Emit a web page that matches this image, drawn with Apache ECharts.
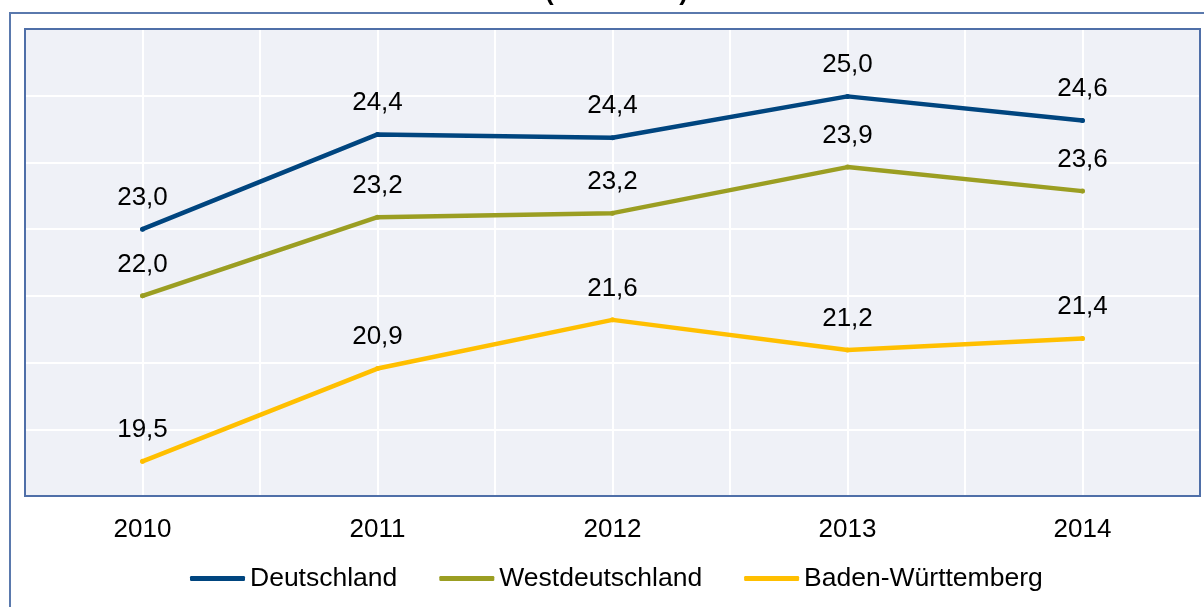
<!DOCTYPE html>
<html>
<head>
<meta charset="utf-8">
<script src="https://cdn.jsdelivr.net/npm/echarts@6/dist/echarts.min.js"></script>
<style>
  html, body { margin: 0; padding: 0; background: #fff; }
  #chart { width: 1204px; height: 607px; }
</style>
</head>
<body>
<div id="chart"></div>
<script>
// Jahre
const years = ["2010", "2011", "2012", "2013", "2014"];
// Werte je Region
const deutschland = [23.0, 24.42, 24.37, 24.99, 24.63];
const westdeutschland = [22.0, 23.18, 23.24, 23.93, 23.57];
const badenWuerttemberg = [19.52, 20.91, 21.64, 21.19, 21.36];
const seriesNames = ["Deutschland", "Westdeutschland", "Baden-Württemberg"];
const colors = ["#00457f", "#9b9e22", "#ffbf00"];

const font = "Arial, 'Liberation Sans', sans-serif";

function makeLine(name, data, color) {
  return {
    name: name,
    type: "line",
    data: data,
    symbol: "circle",
    symbolSize: 5,
    lineStyle: { width: 4.5, color: color, cap: "round" },
    itemStyle: { color: color },
    label: {
      show: true,
      position: "top",
      distance: 16,
      color: "#000",
      fontSize: 26,
      fontFamily: font,
      formatter: p => p.value.toFixed(1).replace(".", ",")
    }
  };
}

const chart = echarts.init(document.getElementById("chart"));
chart.setOption({
  animation: false,
  color: colors,
  grid: {
    left: 25,
    right: 4,
    top: 29,
    bottom: 111,
    show: true,
    backgroundColor: "#eff1f7",
    borderWidth: 0
  },
  legend: {
    data: seriesNames,
    left: 185,
    top: 560,
    icon: "roundRect",
    itemWidth: 55,
    itemHeight: 5,
    itemGap: 42,
    textStyle: { color: "#000", fontSize: 26.5, fontFamily: font }
  },
  xAxis: [
    {
      type: "category",
      data: years,
      boundaryGap: true,
      axisLine: { show: false },
      axisTick: { show: false },
      splitLine: { show: false },
      axisLabel: { color: "#000", fontSize: 26, fontFamily: font, margin: 21 }
    },
    {
      // nur für die Gitterlinien (halbe Schritte)
      type: "category",
      data: ["", "", "", "", "", "", "", "", "", ""],
      boundaryGap: true,
      position: "bottom",
      axisLine: { show: false },
      axisTick: { show: false },
      axisLabel: { show: false },
      splitLine: { show: true, lineStyle: { color: "#ffffff", width: 2 } }
    }
  ],
  yAxis: {
    type: "value",
    min: 19,
    max: 26,
    interval: 1,
    axisLine: { show: false },
    axisTick: { show: false },
    axisLabel: { show: false },
    splitLine: { show: true, lineStyle: { color: "#ffffff", width: 2 } }
  },
  graphic: [
    {
      type: "rect",
      z: 100,
      shape: { x: 10, y: 13, width: 1210, height: 620 },
      style: { fill: null, stroke: "#5a79ad", lineWidth: 2 }
    },
    {
      type: "rect",
      z: 100,
      shape: { x: 25, y: 29, width: 1175, height: 467 },
      style: { fill: null, stroke: "#4f6fa8", lineWidth: 2 }
    },
    {
      type: "text",
      z: 100,
      x: 545,
      y: 6,
      style: {
        text: "(in Prozent)",
        fill: "#000",
        font: "bold 26px " + font,
        verticalAlign: "bottom"
      }
    }
  ],
  series: [
    makeLine(seriesNames[0], deutschland, colors[0]),
    makeLine(seriesNames[1], westdeutschland, colors[1]),
    makeLine(seriesNames[2], badenWuerttemberg, colors[2])
  ]
});
</script>
</body>
</html>
